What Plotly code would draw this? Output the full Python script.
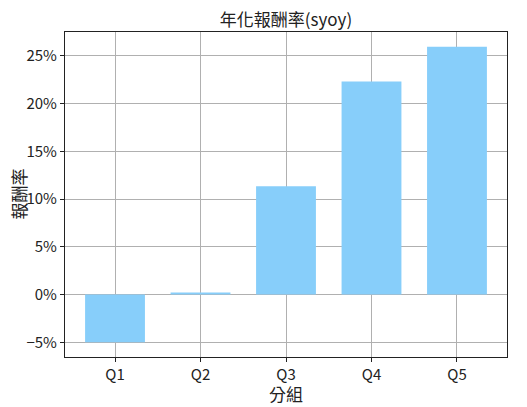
import plotly.graph_objects as go

# 分組年化報酬率
groups = ["Q1", "Q2", "Q3", "Q4", "Q5"]
returns = [-0.0498, 0.0021, 0.1135, 0.2230, 0.2594]
y_ticks = [-0.05, 0, 0.05, 0.10, 0.15, 0.20, 0.25]

font_name = "Noto Sans CJK TC"

# the page has an 8px body margin, so the figure is kept inside the window
W, H = 519, 399

fig = go.Figure()
fig.add_trace(go.Bar(x=list(range(len(groups))), y=returns, width=0.7,
                     marker=dict(color="#87CEFA", line=dict(width=0))))

fig.update_layout(
    width=W, height=H,
    margin=dict(l=57, r=20, t=24, b=50),
    paper_bgcolor="white", plot_bgcolor="white",
    font=dict(family=font_name, size=15, color="#222"),
    title=dict(text="年化報酬率(syoy)", x=278 / W, xanchor="center",
               yref="container", y=1 - 12 / H, yanchor="middle",
               font=dict(size=17, color="#222")),
    showlegend=False,
)
fig.update_xaxes(
    range=[-0.585, 4.585], tickvals=list(range(len(groups))), ticktext=groups,
    showgrid=True, gridcolor="#b0b0b0", gridwidth=1,
    showline=True, linecolor="#222", linewidth=1.2, mirror=True,
    ticks="outside", ticklen=4, tickcolor="#222", zeroline=False,
    automargin=False,
)
fig.update_yaxes(
    range=[-0.0653, 0.2749], tickvals=y_ticks, tickformat=".0%",
    showgrid=True, gridcolor="#b0b0b0", gridwidth=1,
    showline=True, linecolor="#222", linewidth=1.2, mirror=True,
    ticks="outside", ticklen=4, tickcolor="#222", zeroline=False,
    automargin=False,
)

# axis titles as annotations so they sit where the reference has them
fig.add_annotation(text="分組", xref="paper", yref="paper", x=0.5, y=0,
                   yshift=-36, showarrow=False, yanchor="middle",
                   font=dict(size=17))
fig.add_annotation(text="報酬率", xref="paper", yref="paper", x=0, y=0.5,
                   xshift=-47, showarrow=False, textangle=-90,
                   xanchor="center", font=dict(size=17))

fig.write_html("out.html")
